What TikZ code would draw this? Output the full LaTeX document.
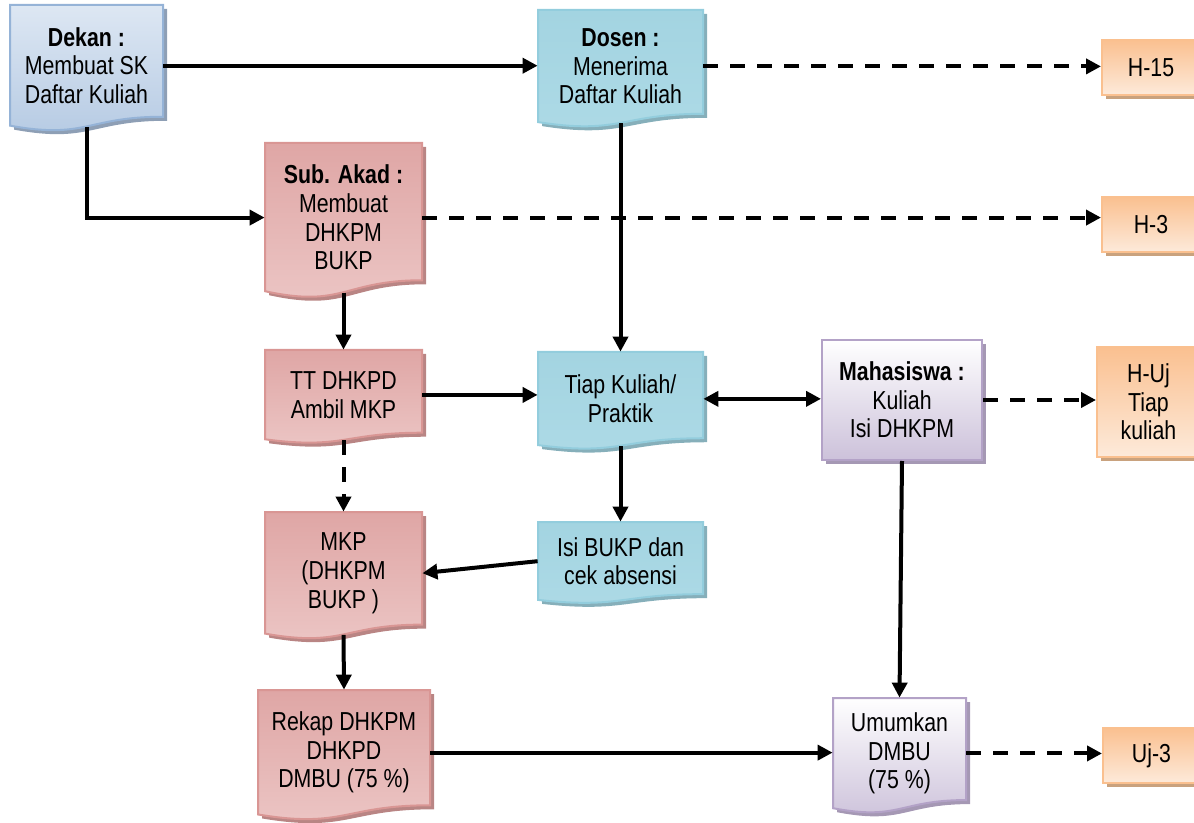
\documentclass[tikz,border=0pt]{standalone}
\usepackage{fontspec}
\setmainfont{Liberation Sans}[FakeStretch=0.82]
\usetikzlibrary{positioning, shadows, arrows.meta, calc}

\definecolor{dknTop}{HTML}{DDE7F3}
\definecolor{dknBot}{HTML}{B5CAE3}
\definecolor{dknLine}{HTML}{95B3D7}
\definecolor{dknShd}{HTML}{8E9FB5}
\definecolor{dsnTop}{HTML}{A3D4E1}
\definecolor{dsnMid}{HTML}{D8EDF3}
\definecolor{dsnBot}{HTML}{ADDAE6}
\definecolor{dsnLine}{HTML}{93CDDD}
\definecolor{dsnShd}{HTML}{86AFBA}
\definecolor{akdTop}{HTML}{DFA6A5}
\definecolor{akdMid}{HTML}{F3DEDE}
\definecolor{akdBot}{HTML}{ECC6C5}
\definecolor{akdLine}{HTML}{D99694}
\definecolor{akdShd}{HTML}{B98584}
\definecolor{mhsBot}{HTML}{CCC1DA}
\definecolor{mhsLine}{HTML}{B3A2C7}
\definecolor{mhsShd}{HTML}{A598B4}
\definecolor{hariTop}{HTML}{FAC090}
\definecolor{hariBot}{HTML}{FDEADA}
\definecolor{hariLine}{HTML}{FAC08F}
\definecolor{hariShd}{HTML}{C9A27E}

\newcommand{\dgfont}{\fontsize{13}{14.3}\selectfont}

% document shape with wavy bottom: name, colours, x1, y1, x2, height, text
\newcommand{\docnode}[7]{%
  \pgfmathsetmacro{\dnxa}{#3}%
  \pgfmathsetmacro{\dnya}{#4}%
  \pgfmathsetmacro{\dnxb}{#5}%
  \pgfmathsetmacro{\dnxm}{(#3+#5)/2}%
  \pgfmathsetmacro{\dnyr}{#4+0.88*#6}%
  \pgfmathsetmacro{\dnyl}{#4+0.95*#6}%
  \pgfmathsetmacro{\dnyc}{#4+1.06*#6}%
  \pgfmathsetmacro{\dnym}{#4+0.478*#6}%
  \pgfmathsetmacro{\dnhh}{0.956*#6}%
  \fill[#2sh, shift={(4,4)}] (\dnxa,\dnya) -- (\dnxb,\dnya) -- (\dnxb,\dnyr)
    .. controls (\dnxm,\dnyr) and (\dnxm,\dnyc) .. (\dnxa,\dnyl) -- cycle;
  \shade[#2] (\dnxa,\dnya) -- (\dnxb,\dnya) -- (\dnxb,\dnyr)
    .. controls (\dnxm,\dnyr) and (\dnxm,\dnyc) .. (\dnxa,\dnyl) -- cycle;
  \node[docbox, minimum width={(#5-#3)*0.5pt}, minimum height={\dnhh*0.5pt}] (#1) at (\dnxm,\dnym) {#7};%
}

\begin{document}
\begin{tikzpicture}[
    x=0.5pt, y=-0.5pt,
    every node/.style={font=\dgfont, align=center, inner sep=0pt},
    docbox/.style={draw=none},
    dkn/.style={top color=dknTop, bottom color=dknBot, draw=dknLine, line width=1pt},
    dknsh/.style={fill=dknShd},
    dsn/.style={top color=dsnTop, middle color=dsnMid, bottom color=dsnBot, draw=dsnLine, line width=1pt},
    dsnsh/.style={fill=dsnShd},
    akd/.style={top color=akdTop, middle color=akdMid, bottom color=akdBot, draw=akdLine, line width=1pt},
    akdsh/.style={fill=akdShd},
    mhs/.style={top color=white, bottom color=mhsBot, draw=mhsLine, line width=1pt},
    mhssh/.style={fill=mhsShd},
    mhsbox/.style={shade, top color=white, bottom color=mhsBot, draw=mhsLine, line width=1pt,
      drop shadow={shadow xshift=2pt, shadow yshift=-2pt, fill=mhsShd, opacity=1}},
    haribox/.style={shade, top color=hariTop, bottom color=hariBot, draw=hariLine, line width=1pt,
      drop shadow={shadow xshift=2pt, shadow yshift=-2pt, fill=hariShd, opacity=1}},
    conn/.style={line width=2pt, -{Triangle[length=7.5pt,width=7.5pt]}},
    dashconn/.style={conn, dash pattern=on 7.5pt off 6pt}
    ]
    \useasboundingbox (0,0) rectangle (1194,823);

    \docnode{dekan}{dkn}{10}{5}{163}{127}{\textbf{Dekan :}\\Membuat SK\\Daftar Kuliah}
    \docnode{dosen}{dsn}{538}{10}{703}{118}{\textbf{Dosen :}\\Menerima\\Daftar Kuliah}
    \docnode{subakad}{akd}{265}{143}{422}{156}{\textbf{Sub. Akad :}\\Membuat\\DHKPM\\BUKP}
    \docnode{ttdhkpd}{akd}{265}{350}{422}{94}{TT DHKPD\\Ambil MKP}
    \docnode{tiap}{dsn}{538}{352}{703}{98}{Tiap Kuliah/\\Praktik}
    \docnode{isi}{dsn}{538}{522}{703}{82}{Isi BUKP dan\\cek absensi}
    \docnode{mkp}{akd}{265}{512}{422}{128}{MKP\\(DHKPM\\BUKP )}
    \docnode{rekap}{akd}{258}{690}{430}{131}{Rekap DHKPM\\DHKPD\\DMBU (75 \%)}
    \docnode{umumkan}{mhs}{833}{698}{966}{116}{Umumkan\\DMBU\\(75 \%)}

    \node (mhs) [mhsbox, minimum width=80pt, minimum height=60pt] at (902,400) {\textbf{Mahasiswa :}\\Kuliah\\Isi DHKPM};
    \node (h15) [haribox, minimum width=49pt, minimum height=27.5pt] at (1151,67.5) {H-15};
    \node (h3) [haribox, minimum width=49pt, minimum height=27.5pt] at (1151,224.5) {H-3};
    \node (huj) [haribox, minimum width=51.5pt, minimum height=55pt] at (1148.5,402) {H-Uj\\Tiap\\kuliah};
    \node (uj3) [haribox, minimum width=48.5pt, minimum height=27.5pt] at (1151.5,755.5) {Uj-3};

    \draw[conn] (dekan.east) -- (dekan.east -| dosen.west);
    \draw[dashconn] (dosen.east) -- (dosen.east -| h15.west);
    \draw[conn] (dekan.south) |- (subakad.west);
    \draw[dashconn] (subakad.east) -- (subakad.east -| h3.west);
    \draw[conn] (dosen.south) -- (tiap.north);
    \draw[conn] (subakad.south) -- (ttdhkpd.north);
    \draw[conn] (ttdhkpd.east) -- (ttdhkpd.east -| tiap.west);
    \draw[conn, {Triangle[length=7.5pt,width=7.5pt]}-{Triangle[length=7.5pt,width=7.5pt]}] (tiap.east) -- (tiap.east -| mhs.west);
    \draw[dashconn] (mhs.east) -- (mhs.east -| huj.west);
    \draw[dashconn] (ttdhkpd.south) -- (mkp.north);
    \draw[conn] (tiap.south) -- (isi.north);
    \draw[conn] (isi.west) -- (mkp.east);
    \draw[conn] (mkp.south) -- (rekap.north);
    \draw[conn] (rekap.east) -- (rekap.east -| umumkan.west);
    \draw[conn] (mhs.south) -- (umumkan.north);
    \draw[dashconn] (umumkan.east) -- (umumkan.east -| uj3.west);
\end{tikzpicture}
\end{document}
